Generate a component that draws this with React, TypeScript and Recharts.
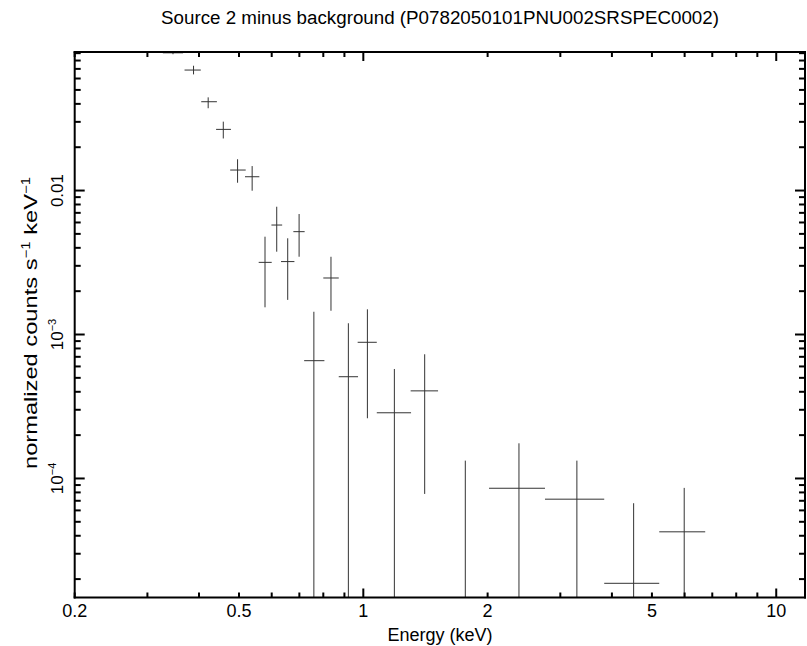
import React from "react";
import { ScatterChart, Scatter, XAxis, YAxis, ReferenceLine } from "recharts";

const FONT = "'Liberation Sans', Arial, Helvetica, sans-serif";

// channel centres and bin edges (keV)
const energy = [0.346, 0.388, 0.421, 0.458, 0.496, 0.538, 0.578, 0.617, 0.656, 0.699, 0.759, 0.835, 0.92, 1.023, 1.189, 1.408, 1.766, 2.382, 3.29, 4.515, 5.986];
const energyLo = [0.327, 0.369, 0.405, 0.44, 0.476, 0.517, 0.558, 0.599, 0.632, 0.677, 0.719, 0.8, 0.872, 0.969, 1.078, 1.302, 1.517, 2.016, 2.754, 3.832, 5.208];
const energyHi = [0.366, 0.404, 0.442, 0.478, 0.519, 0.56, 0.6, 0.636, 0.681, 0.721, 0.805, 0.872, 0.971, 1.078, 1.305, 1.517, 2.016, 2.754, 3.832, 5.208, 6.73];

// normalized counts s^-1 keV^-1, with lower / upper bounds (1e-7 = bar runs off the bottom)
const rate = [0.0905, 0.0687, 0.0414, 0.0266, 0.01388, 0.01247, 0.00317, 0.00576, 0.00321, 0.00518, 0.000658, 0.002469, 0.000509, 0.000883, 0.000286, 0.000406, 0.00001, 0.0000855, 0.0000718, 0.0000187, 0.0000426];
const rateLo = [0.0885, 0.0641, 0.0373, 0.023, 0.01133, 0.00997, 0.001545, 0.00376, 0.00174, 0.00347, 1e-7, 0.001462, 1e-7, 0.000262, 1e-7, 0.0000781, 1e-7, 1e-7, 1e-7, 1e-7, 1e-7];
const rateHi = [0.1, 0.0736, 0.0444, 0.0301, 0.0165, 0.01479, 0.00478, 0.00772, 0.00466, 0.00687, 0.001439, 0.003467, 0.001197, 0.001496, 0.000576, 0.000729, 0.000133, 0.0001755, 0.000133, 0.0000673, 0.000086];

const xLabelTicks = [0.2, 0.5, 1, 2, 5, 10];
const xLabels = ["0.2", "0.5", "1", "2", "5", "10"];
const xMajorTicks = [1, 10];
const xMinorTicks = [0.2, 0.3, 0.4, 0.5, 0.6, 0.7, 0.8, 0.9, 2, 3, 4, 5, 6, 7, 8, 9];

const yLabelTicks = [1e-4, 1e-3, 0.01];
const yLabels = [["10", "−4"], ["10", "−3"], ["0.01", ""]];
const yMajorTicks = [1e-4, 1e-3, 0.01];
const yMinorTicks = [
  2e-5, 3e-5, 4e-5, 5e-5, 6e-5, 7e-5, 8e-5, 9e-5,
  2e-4, 3e-4, 4e-4, 5e-4, 6e-4, 7e-4, 8e-4, 9e-4,
  2e-3, 3e-3, 4e-3, 5e-3, 6e-3, 7e-3, 8e-3, 9e-3,
  0.02, 0.03, 0.04, 0.05, 0.06, 0.07, 0.08, 0.09,
];

const X_DOMAIN = [0.2, 11.74];
const Y_DOMAIN = [1.49e-5, 0.0917];

const xAxisTicks = Array.from(new Set([...xMinorTicks, ...xMajorTicks, ...xLabelTicks])).sort((a, b) => a - b);
const yAxisTicks = Array.from(new Set([...yMinorTicks, ...yMajorTicks])).sort((a, b) => a - b);

const points = energy.map((e, i) => ({ energy: e, rate: rate[i] }));

const frameLine = { stroke: "#000", strokeWidth: 2, strokeLinecap: "square" as const };
const barColor = "#333";

const xLen = (v: number) => (xMajorTicks.includes(v) ? 9 : 5);
const yLen = (v: number) => (yMajorTicks.includes(v) ? 10 : 6);

// tick renderers draw the inward tick mark themselves (tickSize 0 puts x/y on the axis line)
const BottomTick = ({ x, y, payload }: any) => {
  const i = xLabelTicks.indexOf(payload.value);
  return (
    <g>
      <line x1={x} y1={y} x2={x} y2={y - xLen(payload.value)} stroke="#000" strokeWidth={2} />
      {i >= 0 && (
        <text x={x} y={y + 19} textAnchor="middle" fontSize={18} fontFamily={FONT} fill="#000">
          {xLabels[i]}
        </text>
      )}
    </g>
  );
};

const TopTick = ({ x, y, payload }: any) => (
  <line x1={x} y1={y} x2={x} y2={y + xLen(payload.value)} stroke="#000" strokeWidth={2} />
);

const LeftTick = ({ x, y, payload }: any) => {
  const i = yLabelTicks.indexOf(payload.value);
  const bx = x - 12;
  return (
    <g>
      <line x1={x} y1={y} x2={x + yLen(payload.value)} y2={y} stroke="#000" strokeWidth={2} />
      {i >= 0 && (
        <text
          transform={`rotate(-90 ${bx} ${y})`}
          x={bx}
          y={y}
          textAnchor="middle"
          fontSize={17}
          fontFamily={FONT}
          fill="#000"
        >
          {yLabels[i][0]}
          {yLabels[i][1] && (
            <tspan dy={-7} fontSize={11}>
              {yLabels[i][1]}
            </tspan>
          )}
        </text>
      )}
    </g>
  );
};

const RightTick = ({ x, y, payload }: any) => (
  <line x1={x} y1={y} x2={x - yLen(payload.value)} y2={y} stroke="#000" strokeWidth={2} />
);

const noMark = () => <g />;

export default function App() {
  return (
    <div style={{ position: "absolute", left: 0, top: 0, width: 807, height: 646, background: "#fff" }}>
      <ScatterChart width={807} height={646} margin={{ top: 51, right: 1, bottom: 0, left: 0 }}>
        <XAxis
          xAxisId="x"
          dataKey="energy"
          type="number"
          scale="log"
          domain={X_DOMAIN}
          allowDataOverflow
          ticks={xAxisTicks}
          interval={0}
          height={48.5}
          tickSize={0}
          tickMargin={0}
          tickLine={false}
          axisLine={frameLine}
          tick={<BottomTick />}
        />
        <XAxis
          xAxisId="xt"
          dataKey="energy"
          orientation="top"
          type="number"
          scale="log"
          domain={X_DOMAIN}
          allowDataOverflow
          ticks={xAxisTicks}
          interval={0}
          height={1}
          tickSize={0}
          tickMargin={0}
          tickLine={false}
          axisLine={frameLine}
          tick={<TopTick />}
        />
        <YAxis
          yAxisId="y"
          dataKey="rate"
          type="number"
          scale="log"
          domain={Y_DOMAIN}
          allowDataOverflow
          ticks={yAxisTicks}
          interval={0}
          width={74.7}
          tickSize={0}
          tickMargin={0}
          tickLine={false}
          axisLine={frameLine}
          tick={<LeftTick />}
        />
        <YAxis
          yAxisId="yr"
          dataKey="rate"
          orientation="right"
          type="number"
          scale="log"
          domain={Y_DOMAIN}
          allowDataOverflow
          ticks={yAxisTicks}
          interval={0}
          width={1}
          tickSize={0}
          tickMargin={0}
          tickLine={false}
          axisLine={frameLine}
          tick={<RightTick />}
        />

        <Scatter xAxisId="x" yAxisId="y" data={points} isAnimationActive={false} shape={noMark} />
        <Scatter xAxisId="xt" yAxisId="yr" data={points} isAnimationActive={false} shape={noMark} />

        {/* error crosses: bin width and 1-sigma range, clipped to the plot */}
        {energy.map((e, i) => (
          <ReferenceLine
            key={`h${i}`}
            xAxisId="x"
            yAxisId="y"
            segment={[{ x: energyLo[i], y: rate[i] }, { x: energyHi[i], y: rate[i] }]}
            ifOverflow="hidden"
            stroke={barColor}
            strokeWidth={1}
          />
        ))}
        {energy.map((e, i) => (
          <ReferenceLine
            key={`v${i}`}
            xAxisId="x"
            yAxisId="y"
            segment={[{ x: e, y: rateLo[i] }, { x: e, y: rateHi[i] }]}
            ifOverflow="hidden"
            stroke={barColor}
            strokeWidth={1}
          />
        ))}
      </ScatterChart>

      <svg width={807} height={646} style={{ position: "absolute", left: 0, top: 0, pointerEvents: "none" }}>
        <text x={440} y={24} textAnchor="middle" fontSize={18} textLength={558} lengthAdjust="spacingAndGlyphs" fontFamily={FONT} fill="#000">
          Source 2 minus background (P0782050101PNU002SRSPEC0002)
        </text>
        <text x={440} y={641} textAnchor="middle" fontSize={18} fontFamily={FONT} fill="#000">
          Energy (keV)
        </text>
        <text transform="rotate(-90 37 323)" x={37} y={323} textAnchor="middle" fontSize={19} textLength={292} lengthAdjust="spacingAndGlyphs" fontFamily={FONT} fill="#000">
          normalized counts s
          <tspan dy={-7} fontSize={12}>−1</tspan>
          <tspan dy={7}> keV</tspan>
          <tspan dy={-7} fontSize={12}>−1</tspan>
        </text>
      </svg>
    </div>
  );
}
